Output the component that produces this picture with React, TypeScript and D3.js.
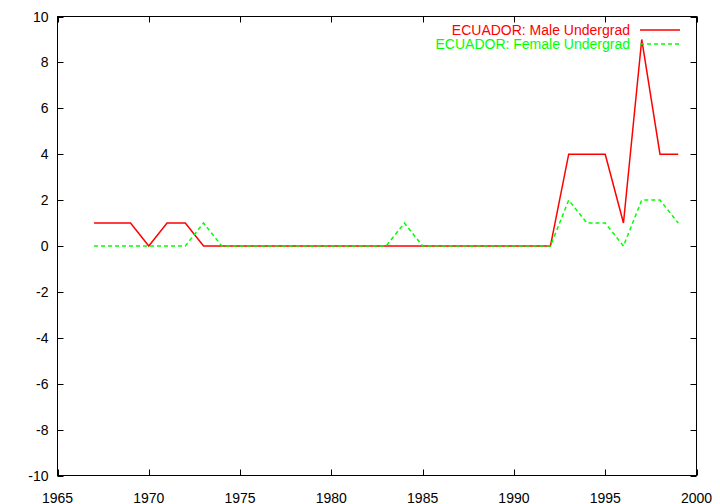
import React, { useEffect, useRef } from "react";
import * as d3 from "d3";

const years = [1967, 1968, 1969, 1970, 1971, 1972, 1973, 1974, 1975, 1976, 1977, 1978, 1979, 1980, 1981, 1982, 1983, 1984, 1985, 1986, 1987, 1988, 1989, 1990, 1991, 1992, 1993, 1994, 1995, 1996, 1997, 1998, 1999];
const maleValues = [1, 1, 1, 0, 1, 1, 0, 0, 0, 0, 0, 0, 0, 0, 0, 0, 0, 0, 0, 0, 0, 0, 0, 0, 0, 0, 4, 4, 4, 1, 9, 4, 4];
const femaleValues = [0, 0, 0, 0, 0, 0, 1, 0, 0, 0, 0, 0, 0, 0, 0, 0, 0, 1, 0, 0, 0, 0, 0, 0, 0, 0, 2, 1, 1, 0, 2, 2, 1];
const xTicks = [1965, 1970, 1975, 1980, 1985, 1990, 1995, 2000];
const yTicks = [-10, -8, -6, -4, -2, 0, 2, 4, 6, 8, 10];

const series = [
  { name: "ECUADOR: Male Undergrad", values: maleValues, color: "#ff0000", dash: "none" },
  { name: "ECUADOR: Female Undergrad", values: femaleValues, color: "#00ff00", dash: "4,3" },
];

const App: React.FC = () => {
  const ref = useRef<SVGSVGElement | null>(null);

  useEffect(() => {
    const svg = d3.select(ref.current);
    svg.selectAll("*").remove();

    const left = 57.5;
    const right = 696.5;
    const top = 16.5;
    const bottom = 475.5;

    const x = d3.scaleLinear().domain([1965, 2000]).range([left, right]);
    const y = d3.scaleLinear().domain([-10, 10]).range([bottom, top]);
    const font = "'Liberation Sans', Arial, sans-serif";
    const fs = 14;

    const g = svg.append("g");

    // ticks on all sides (mirrored, inward)
    xTicks.forEach((t) => {
      const px = Math.round(x(t)) + 0.5;
      g.append("line").attr("x1", px).attr("x2", px).attr("y1", bottom).attr("y2", bottom - 6).attr("stroke", "#000");
      g.append("line").attr("x1", px).attr("x2", px).attr("y1", top).attr("y2", top + 6).attr("stroke", "#000");
      g.append("text")
        .attr("x", x(t))
        .attr("y", bottom + 27)
        .attr("text-anchor", "middle")
        .attr("font-family", font)
        .attr("font-size", fs)
        .text(t);
    });

    yTicks.forEach((t) => {
      const py = Math.round(y(t)) + 0.5;
      g.append("line").attr("x1", left).attr("x2", left + 6).attr("y1", py).attr("y2", py).attr("stroke", "#000");
      g.append("line").attr("x1", right).attr("x2", right - 6).attr("y1", py).attr("y2", py).attr("stroke", "#000");
      g.append("text")
        .attr("x", left - 9)
        .attr("y", y(t) + 5)
        .attr("text-anchor", "end")
        .attr("font-family", font)
        .attr("font-size", fs)
        .text(t);
    });

    g.append("rect")
      .attr("x", left)
      .attr("y", top)
      .attr("width", right - left)
      .attr("height", bottom - top)
      .attr("fill", "none")
      .attr("stroke", "#000");

    const line = d3
      .line<number>()
      .x((_, i) => x(years[i]))
      .y((d) => y(d));

    series.forEach((s, i) => {
      g.append("path")
        .datum(s.values)
        .attr("d", line)
        .attr("fill", "none")
        .attr("stroke", s.color)
        .attr("stroke-width", 1.5)
        .attr("stroke-dasharray", s.dash);

      const ly = 30 + i * 14;
      g.append("text")
        .attr("x", 630)
        .attr("y", ly + 5)
        .attr("text-anchor", "end")
        .attr("font-family", font)
        .attr("font-size", fs)
        .attr("fill", s.color)
        .text(s.name);
      g.append("line")
        .attr("x1", 640)
        .attr("x2", 680)
        .attr("y1", ly)
        .attr("y2", ly)
        .attr("stroke", s.color)
        .attr("stroke-width", 1.5)
        .attr("stroke-dasharray", s.dash);
    });
  }, []);

  return (
    <svg
      ref={ref}
      width={720}
      height={504}
      style={{ position: "absolute", left: 0, top: 0, background: "#fff" }}
    />
  );
};

export default App;
